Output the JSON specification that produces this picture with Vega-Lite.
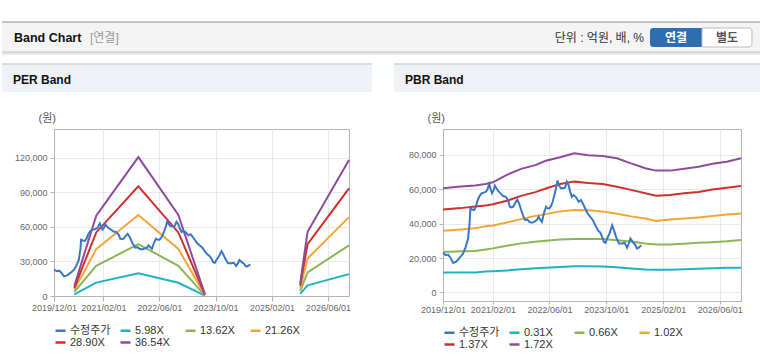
{
  "$schema": "https://vega.github.io/schema/vega-lite/v6.json",
  "padding": {"top": 21, "left": 0, "right": 0, "bottom": 0},
  "background": "white",
  "spacing": 8,
  "datasets": {
    "price": [
      {"d":"2019-12-01","v":23000},{"d":"2019-12-24","v":21600},{"d":"2020-01-14","v":22000},{"d":"2020-02-03","v":20200},
      {"d":"2020-02-26","v":17100},{"d":"2020-03-19","v":17700},{"d":"2020-04-08","v":19000},{"d":"2020-04-28","v":20600},
      {"d":"2020-05-21","v":22600},{"d":"2020-06-13","v":26500},{"d":"2020-07-03","v":31300},{"d":"2020-07-17","v":41000},
      {"d":"2020-07-23","v":48800},{"d":"2020-08-07","v":48200},{"d":"2020-08-24","v":47900},{"d":"2020-09-08","v":49800},
      {"d":"2020-09-19","v":52700},{"d":"2020-10-06","v":55600},{"d":"2020-10-26","v":57600},{"d":"2020-11-16","v":58000},
      {"d":"2020-12-03","v":58600},{"d":"2020-12-14","v":59500},{"d":"2021-01-01","v":63000},{"d":"2021-01-13","v":60000},
      {"d":"2021-01-24","v":57600},{"d":"2021-02-05","v":59000},{"d":"2021-02-18","v":62000},{"d":"2021-03-04","v":60500},
      {"d":"2021-03-18","v":59000},{"d":"2021-04-08","v":57600},{"d":"2021-04-30","v":56000},{"d":"2021-05-23","v":55600},
      {"d":"2021-06-13","v":53300},{"d":"2021-06-27","v":49800},{"d":"2021-07-11","v":49400},{"d":"2021-07-26","v":49800},
      {"d":"2021-08-18","v":52700},{"d":"2021-08-30","v":54000},{"d":"2021-09-16","v":51400},{"d":"2021-09-30","v":48200},
      {"d":"2021-10-20","v":44400},{"d":"2021-11-04","v":42000},{"d":"2021-11-24","v":42400},{"d":"2021-12-11","v":41000},
      {"d":"2022-01-01","v":40500},{"d":"2022-01-21","v":41000},{"d":"2022-02-13","v":42000},{"d":"2022-02-28","v":44000},
      {"d":"2022-03-17","v":42000},{"d":"2022-03-29","v":41000},{"d":"2022-04-15","v":46000},{"d":"2022-05-03","v":49800},
      {"d":"2022-05-14","v":49000},{"d":"2022-06-01","v":48800},{"d":"2022-06-15","v":50200},{"d":"2022-06-29","v":52700},
      {"d":"2022-07-14","v":56600},{"d":"2022-07-28","v":60500},{"d":"2022-08-09","v":65000},{"d":"2022-08-20","v":62500},
      {"d":"2022-09-07","v":60500},{"d":"2022-09-30","v":60500},{"d":"2022-10-14","v":61000},{"d":"2022-10-28","v":64400},
      {"d":"2022-11-12","v":62500},{"d":"2022-11-26","v":58600},{"d":"2022-12-11","v":55600},{"d":"2022-12-25","v":56600},
      {"d":"2023-01-17","v":55300},{"d":"2023-02-07","v":52700},{"d":"2023-02-27","v":53700},{"d":"2023-03-14","v":51800},
      {"d":"2023-04-04","v":48800},{"d":"2023-04-24","v":46000},{"d":"2023-05-16","v":44000},{"d":"2023-06-09","v":42000},
      {"d":"2023-06-29","v":39000},{"d":"2023-07-24","v":36000},{"d":"2023-08-13","v":34600},{"d":"2023-08-27","v":32300},
      {"d":"2023-09-11","v":29400},{"d":"2023-09-25","v":28800},{"d":"2023-10-09","v":31300},{"d":"2023-10-29","v":34200},
      {"d":"2023-11-22","v":39000},{"d":"2023-12-08","v":36000},{"d":"2023-12-25","v":32300},{"d":"2024-01-18","v":28400},
      {"d":"2024-02-15","v":28400},{"d":"2024-03-08","v":28800},{"d":"2024-03-28","v":26000},{"d":"2024-04-12","v":28400},
      {"d":"2024-04-26","v":31300},{"d":"2024-05-16","v":29400},{"d":"2024-06-03","v":28000},{"d":"2024-06-22","v":25500},
      {"d":"2024-07-06","v":26000},{"d":"2024-07-29","v":27400}
    ],
    "perBands": [
      {"d":"2020-05-25","s":"5.98X","v":1500,"p":1},{"d":"2020-12-01","s":"5.98X","v":11600,"p":1},{"d":"2021-12-01","s":"5.98X","v":19800,"p":1},{"d":"2022-11-13","s":"5.98X","v":11500,"p":1},{"d":"2023-07-01","s":"5.98X","v":300,"p":1},
      {"d":"2025-10-04","s":"5.98X","v":1800,"p":2},{"d":"2025-12-07","s":"5.98X","v":9200,"p":2},{"d":"2026-12-01","s":"5.98X","v":19000,"p":2},
      {"d":"2020-05-25","s":"13.62X","v":3500,"p":1},{"d":"2020-12-01","s":"13.62X","v":26200,"p":1},{"d":"2021-12-01","s":"13.62X","v":45000,"p":1},{"d":"2022-11-13","s":"13.62X","v":26200,"p":1},{"d":"2023-07-01","s":"13.62X","v":600,"p":1},
      {"d":"2025-10-04","s":"13.62X","v":4200,"p":2},{"d":"2025-12-07","s":"13.62X","v":20500,"p":2},{"d":"2026-12-01","s":"13.62X","v":44000,"p":2},
      {"d":"2020-05-25","s":"21.26X","v":5500,"p":1},{"d":"2020-12-01","s":"21.26X","v":40700,"p":1},{"d":"2021-12-01","s":"21.26X","v":70300,"p":1},{"d":"2022-11-13","s":"21.26X","v":40800,"p":1},{"d":"2023-07-01","s":"21.26X","v":900,"p":1},
      {"d":"2025-10-04","s":"21.26X","v":6500,"p":2},{"d":"2025-12-07","s":"21.26X","v":32600,"p":2},{"d":"2026-12-01","s":"21.26X","v":68500,"p":2},
      {"d":"2020-05-25","s":"28.90X","v":6900,"p":1},{"d":"2020-12-01","s":"28.90X","v":55200,"p":1},{"d":"2021-12-01","s":"28.90X","v":95300,"p":1},{"d":"2022-11-13","s":"28.90X","v":55200,"p":1},{"d":"2023-07-01","s":"28.90X","v":1200,"p":1},
      {"d":"2025-10-04","s":"28.90X","v":9000,"p":2},{"d":"2025-12-07","s":"28.90X","v":45000,"p":2},{"d":"2026-12-01","s":"28.90X","v":93500,"p":2},
      {"d":"2020-05-25","s":"36.54X","v":8700,"p":1},{"d":"2020-12-01","s":"36.54X","v":69800,"p":1},{"d":"2021-12-01","s":"36.54X","v":120600,"p":1},{"d":"2022-11-13","s":"36.54X","v":70300,"p":1},{"d":"2023-07-01","s":"36.54X","v":1500,"p":1},
      {"d":"2025-10-04","s":"36.54X","v":11000,"p":2},{"d":"2025-12-07","s":"36.54X","v":55800,"p":2},{"d":"2026-12-01","s":"36.54X","v":118000,"p":2}
    ],
    "pbrBands": [
      {"d":"2019-12-01","s":"0.31X","v":11500},{"d":"2020-05-01","s":"0.31X","v":11500},{"d":"2020-09-01","s":"0.31X","v":11600},{"d":"2020-12-01","s":"0.31X","v":12100},
      {"d":"2021-02-01","s":"0.31X","v":12300},{"d":"2021-06-01","s":"0.31X","v":12800},{"d":"2021-10-01","s":"0.31X","v":13400},{"d":"2022-02-01","s":"0.31X","v":14000},
      {"d":"2022-05-01","s":"0.31X","v":14400},{"d":"2022-09-01","s":"0.31X","v":14800},{"d":"2023-01-01","s":"0.31X","v":15200},{"d":"2023-05-01","s":"0.31X","v":15200},
      {"d":"2023-09-01","s":"0.31X","v":15100},{"d":"2024-01-01","s":"0.31X","v":14600},{"d":"2024-05-01","s":"0.31X","v":13900},{"d":"2024-09-01","s":"0.31X","v":13300},
      {"d":"2024-12-01","s":"0.31X","v":13200},{"d":"2025-04-01","s":"0.31X","v":13200},{"d":"2025-08-01","s":"0.31X","v":13500},{"d":"2025-12-01","s":"0.31X","v":13800},
      {"d":"2026-04-01","s":"0.31X","v":14000},{"d":"2026-08-01","s":"0.31X","v":14300},{"d":"2026-12-01","s":"0.31X","v":14400},
      {"d":"2019-12-01","s":"0.66X","v":23500},{"d":"2020-05-01","s":"0.66X","v":23900},{"d":"2020-09-01","s":"0.66X","v":24100},{"d":"2020-12-01","s":"0.66X","v":25000},
      {"d":"2021-02-01","s":"0.66X","v":25600},{"d":"2021-06-01","s":"0.66X","v":27100},{"d":"2021-10-01","s":"0.66X","v":28500},{"d":"2022-02-01","s":"0.66X","v":29400},
      {"d":"2022-05-01","s":"0.66X","v":30000},{"d":"2022-09-01","s":"0.66X","v":30800},{"d":"2023-01-01","s":"0.66X","v":31100},{"d":"2023-05-01","s":"0.66X","v":31100},
      {"d":"2023-09-01","s":"0.66X","v":31000},{"d":"2024-01-01","s":"0.66X","v":30300},{"d":"2024-05-01","s":"0.66X","v":29600},{"d":"2024-09-01","s":"0.66X","v":28400},
      {"d":"2024-12-01","s":"0.66X","v":27800},{"d":"2025-04-01","s":"0.66X","v":27800},{"d":"2025-08-01","s":"0.66X","v":28300},{"d":"2025-12-01","s":"0.66X","v":28800},
      {"d":"2026-04-01","s":"0.66X","v":29200},{"d":"2026-08-01","s":"0.66X","v":29700},{"d":"2026-12-01","s":"0.66X","v":30400},
      {"d":"2019-12-01","s":"1.02X","v":35800},{"d":"2020-05-01","s":"1.02X","v":36600},{"d":"2020-09-01","s":"1.02X","v":37300},{"d":"2020-12-01","s":"1.02X","v":38400},
      {"d":"2021-02-01","s":"1.02X","v":38900},{"d":"2021-06-01","s":"1.02X","v":40600},{"d":"2021-10-01","s":"1.02X","v":42600},{"d":"2022-02-01","s":"1.02X","v":44500},
      {"d":"2022-05-01","s":"1.02X","v":45500},{"d":"2022-09-01","s":"1.02X","v":47100},{"d":"2023-01-01","s":"1.02X","v":47900},{"d":"2023-05-01","s":"1.02X","v":47700},
      {"d":"2023-09-01","s":"1.02X","v":47000},{"d":"2024-01-01","s":"1.02X","v":45700},{"d":"2024-05-01","s":"1.02X","v":44200},{"d":"2024-09-01","s":"1.02X","v":43000},
      {"d":"2024-12-01","s":"1.02X","v":41500},{"d":"2025-04-01","s":"1.02X","v":42400},{"d":"2025-08-01","s":"1.02X","v":42900},{"d":"2025-12-01","s":"1.02X","v":43600},
      {"d":"2026-04-01","s":"1.02X","v":44400},{"d":"2026-08-01","s":"1.02X","v":45300},{"d":"2026-12-01","s":"1.02X","v":45900},
      {"d":"2019-12-01","s":"1.37X","v":48200},{"d":"2020-05-01","s":"1.37X","v":49000},{"d":"2020-09-01","s":"1.37X","v":49900},{"d":"2020-12-01","s":"1.37X","v":50500},
      {"d":"2021-02-01","s":"1.37X","v":51300},{"d":"2021-06-01","s":"1.37X","v":53300},{"d":"2021-10-01","s":"1.37X","v":56100},{"d":"2022-02-01","s":"1.37X","v":58300},
      {"d":"2022-05-01","s":"1.37X","v":60400},{"d":"2022-09-01","s":"1.37X","v":63000},{"d":"2023-01-01","s":"1.37X","v":64400},{"d":"2023-05-01","s":"1.37X","v":63600},
      {"d":"2023-09-01","s":"1.37X","v":63000},{"d":"2024-01-01","s":"1.37X","v":61400},{"d":"2024-05-01","s":"1.37X","v":59600},{"d":"2024-09-01","s":"1.37X","v":57600},
      {"d":"2024-12-01","s":"1.37X","v":56200},{"d":"2025-04-01","s":"1.37X","v":56600},{"d":"2025-08-01","s":"1.37X","v":57600},{"d":"2025-12-01","s":"1.37X","v":58400},
      {"d":"2026-04-01","s":"1.37X","v":59800},{"d":"2026-08-01","s":"1.37X","v":60900},{"d":"2026-12-01","s":"1.37X","v":61900},
      {"d":"2019-12-01","s":"1.72X","v":60500},{"d":"2020-05-01","s":"1.72X","v":61500},{"d":"2020-09-01","s":"1.72X","v":62200},{"d":"2020-12-01","s":"1.72X","v":63000},
      {"d":"2021-02-01","s":"1.72X","v":64000},{"d":"2021-06-01","s":"1.72X","v":68300},{"d":"2021-10-01","s":"1.72X","v":71800},{"d":"2022-02-01","s":"1.72X","v":74000},
      {"d":"2022-05-01","s":"1.72X","v":76500},{"d":"2022-09-01","s":"1.72X","v":78600},{"d":"2023-01-01","s":"1.72X","v":80900},{"d":"2023-05-01","s":"1.72X","v":79800},
      {"d":"2023-09-01","s":"1.72X","v":79300},{"d":"2024-01-01","s":"1.72X","v":78000},{"d":"2024-05-01","s":"1.72X","v":75000},{"d":"2024-09-01","s":"1.72X","v":72200},
      {"d":"2024-12-01","s":"1.72X","v":70800},{"d":"2025-04-01","s":"1.72X","v":70800},{"d":"2025-08-01","s":"1.72X","v":71900},{"d":"2025-12-01","s":"1.72X","v":73000},
      {"d":"2026-04-01","s":"1.72X","v":74800},{"d":"2026-08-01","s":"1.72X","v":76000},{"d":"2026-12-01","s":"1.72X","v":78000}
    ]
  },
  "vconcat": [
    {
      "width": 708,
      "height": 30,
      "view": {"stroke": null},
      "layer": [
        {"data": {"values": [{"t": "bg"}]}, "mark": {"type": "rect", "color": "#f4f4f4"},
         "encoding": {"x": {"datum": 0, "type": "quantitative", "scale": {"domain": [52, 760], "nice": false, "zero": false}, "axis": null}, "x2": {"datum": 760},
                      "y": {"datum": 0, "type": "quantitative", "scale": {"domain": [0, 30], "reverse": true, "nice": false, "zero": false}, "axis": null}, "y2": {"datum": 30}}},
        {"data": {"values": [{"t": "shadow"}]}, "mark": {"type": "rule", "color": "#e4e4e4", "strokeWidth": 2.5},
         "encoding": {"x": {"datum": 0, "type": "quantitative"}, "x2": {"datum": 760}, "y": {"datum": 31.5, "type": "quantitative"}}},
        {"data": {"values": [{"t": "top"}]}, "mark": {"type": "rule", "color": "#b2b2b2", "strokeWidth": 1.5},
         "encoding": {"x": {"datum": 0, "type": "quantitative"}, "x2": {"datum": 760}, "y": {"datum": 0, "type": "quantitative"}}},
        {"data": {"values": [{"t": "bottom"}]}, "mark": {"type": "rule", "color": "#c4c4c4", "strokeWidth": 1.2},
         "encoding": {"x": {"datum": 0, "type": "quantitative"}, "x2": {"datum": 760}, "y": {"datum": 30, "type": "quantitative"}}},
        {"data": {"values": [{"t": "Band Chart"}]}, "mark": {"type": "text", "align": "left", "baseline": "middle", "fontSize": 12.5, "fontWeight": "bold", "color": "#111111"},
         "encoding": {"x": {"datum": 12, "type": "quantitative"}, "y": {"datum": 16, "type": "quantitative"}, "text": {"field": "t"}}},
        {"data": {"values": [{"t": "[연결]"}]}, "mark": {"type": "text", "align": "left", "baseline": "middle", "fontSize": 12, "color": "#999999"},
         "encoding": {"x": {"datum": 88, "type": "quantitative"}, "y": {"datum": 16, "type": "quantitative"}, "text": {"field": "t"}}},
        {"data": {"values": [{"t": "단위 : 억원, 배, %"}]}, "mark": {"type": "text", "align": "right", "baseline": "middle", "fontSize": 12, "color": "#333333"},
         "encoding": {"x": {"datum": 642, "type": "quantitative"}, "y": {"datum": 16, "type": "quantitative"}, "text": {"field": "t"}}},
        {"data": {"values": [{"t": "연결"}]}, "mark": {"type": "rect", "color": "#2f6db3", "cornerRadiusTopLeft": 3, "cornerRadiusBottomLeft": 3},
         "encoding": {"x": {"datum": 648, "type": "quantitative"}, "x2": {"datum": 700}, "y": {"datum": 6, "type": "quantitative"}, "y2": {"datum": 25}}},
        {"data": {"values": [{"t": "별도"}]}, "mark": {"type": "rect", "fill": "#ffffff", "stroke": "#bdbdbd", "strokeWidth": 1, "cornerRadiusTopRight": 3, "cornerRadiusBottomRight": 3},
         "encoding": {"x": {"datum": 700, "type": "quantitative"}, "x2": {"datum": 750}, "y": {"datum": 6, "type": "quantitative"}, "y2": {"datum": 25}}},
        {"data": {"values": [{"t": "연결"}]}, "mark": {"type": "text", "align": "center", "baseline": "middle", "fontSize": 12, "fontWeight": "bold", "color": "#ffffff"},
         "encoding": {"x": {"datum": 674, "type": "quantitative"}, "y": {"datum": 16, "type": "quantitative"}, "text": {"field": "t"}}},
        {"data": {"values": [{"t": "별도"}]}, "mark": {"type": "text", "align": "center", "baseline": "middle", "fontSize": 12, "fontWeight": "bold", "color": "#555555"},
         "encoding": {"x": {"datum": 725, "type": "quantitative"}, "y": {"datum": 16, "type": "quantitative"}, "text": {"field": "t"}}}
      ]
    },
    {
      "resolve": {"scale": {"color": "independent"}, "legend": {"color": "independent"}},
      "spacing": 20,
      "hconcat": [
        {
          "spacing": 19,
          "vconcat": [
            {
              "width": 318,
              "height": 28,
              "view": {"stroke": null},
              "layer": [
                {"data": {"values": [{"t": "bg"}]}, "mark": {"type": "rect", "color": "#eef2f7"},
                 "encoding": {"x": {"datum": 0, "type": "quantitative", "scale": {"domain": [52, 370], "nice": false, "zero": false}, "axis": null}, "x2": {"datum": 370},
                              "y": {"datum": 0, "type": "quantitative", "scale": {"domain": [0, 28], "reverse": true, "nice": false, "zero": false}, "axis": null}, "y2": {"datum": 28}}},
                {"data": {"values": [{"t": "top"}]}, "mark": {"type": "rule", "color": "#d2d2d2", "strokeWidth": 1.5},
                 "encoding": {"x": {"datum": 0, "type": "quantitative"}, "x2": {"datum": 370}, "y": {"datum": 0, "type": "quantitative"}}},
                {"data": {"values": [{"t": "PER Band"}]}, "mark": {"type": "text", "align": "left", "baseline": "middle", "fontSize": 12, "fontWeight": "bold", "color": "#111111"},
                 "encoding": {"x": {"datum": 11, "type": "quantitative"}, "y": {"datum": 16, "type": "quantitative"}, "text": {"field": "t"}}}
              ]
            },
            {
              "width": 295,
              "height": 167,
              "layer": [
                {
                  "data": {"name": "perBands"},
                  "mark": {"type": "line", "strokeWidth": 2},
                  "encoding": {
                    "x": {"field": "d", "type": "temporal",
                      "scale": {"type": "utc", "nice": false, "domain": [{"year": 2019, "month": 12, "date": 1, "utc": true}, {"year": 2026, "month": 12, "date": 1, "utc": true}]},
                      "axis": {"title": null, "format": "%Y/%m/%d", "grid": true, "labelFlush": false, "labelOverlap": false, "tickSize": 5, "labelPadding": 2,
                        "values": [{"year": 2019, "month": 12, "date": 1, "utc": true}, {"year": 2021, "month": 2, "date": 1, "utc": true}, {"year": 2022, "month": 6, "date": 1, "utc": true}, {"year": 2023, "month": 10, "date": 1, "utc": true}, {"year": 2025, "month": 2, "date": 1, "utc": true}, {"year": 2026, "month": 6, "date": 1, "utc": true}]}},
                    "y": {"field": "v", "type": "quantitative",
                      "scale": {"domain": [0, 145000], "nice": false, "zero": false},
                      "axis": {"values": [0, 30000, 60000, 90000, 120000], "format": ",d", "title": "(원)", "titleAngle": 0, "titleAlign": "left", "titleBaseline": "middle", "titleX": -16, "titleY": -11, "titleFontSize": 11, "titleFontWeight": "normal", "titleColor": "#555555", "minExtent": 52, "tickSize": 4, "labelPadding": 3}},
                    "color": {"field": "s", "type": "nominal",
                      "scale": {"domain": ["수정주가", "5.98X", "13.62X", "21.26X", "28.90X", "36.54X"], "range": ["#3a76c6", "#1fb1c4", "#8db455", "#f2a63a", "#d0302c", "#8e4b9c"]},
                      "legend": {"orient": "bottom", "direction": "horizontal", "columns": 4, "title": null, "symbolType": "stroke", "symbolStrokeWidth": 2.5, "symbolSize": 100, "labelFontSize": 11, "labelColor": "#333333", "gridAlign": "all", "columnPadding": 4, "rowPadding": 0, "offset": 11, "labelOffset": 3, "padding": 0}},
                    "detail": {"field": "p", "type": "nominal"}
                  }
                },
                {
                  "data": {"name": "price"},
                  "mark": {"type": "line", "strokeWidth": 2},
                  "encoding": {
                    "x": {"field": "d", "type": "temporal"},
                    "y": {"field": "v", "type": "quantitative"},
                    "color": {"datum": "수정주가", "type": "nominal"}
                  }
                }
              ]
            }
          ]
        },
        {
          "spacing": 19,
          "vconcat": [
            {
              "width": 321,
              "height": 28,
              "view": {"stroke": null},
              "layer": [
                {"data": {"values": [{"t": "bg"}]}, "mark": {"type": "rect", "color": "#eef2f7"},
                 "encoding": {"x": {"datum": 0, "type": "quantitative", "scale": {"domain": [49, 370], "nice": false, "zero": false}, "axis": null}, "x2": {"datum": 370},
                              "y": {"datum": 0, "type": "quantitative", "scale": {"domain": [0, 28], "reverse": true, "nice": false, "zero": false}, "axis": null}, "y2": {"datum": 28}}},
                {"data": {"values": [{"t": "top"}]}, "mark": {"type": "rule", "color": "#d2d2d2", "strokeWidth": 1.5},
                 "encoding": {"x": {"datum": 0, "type": "quantitative"}, "x2": {"datum": 370}, "y": {"datum": 0, "type": "quantitative"}}},
                {"data": {"values": [{"t": "PBR Band"}]}, "mark": {"type": "text", "align": "left", "baseline": "middle", "fontSize": 12, "fontWeight": "bold", "color": "#111111"},
                 "encoding": {"x": {"datum": 11, "type": "quantitative"}, "y": {"datum": 16, "type": "quantitative"}, "text": {"field": "t"}}}
              ]
            },
            {
              "width": 298,
              "height": 172,
              "layer": [
                {
                  "data": {"name": "pbrBands"},
                  "mark": {"type": "line", "strokeWidth": 2},
                  "encoding": {
                    "x": {"field": "d", "type": "temporal",
                      "scale": {"type": "utc", "nice": false, "domain": [{"year": 2019, "month": 12, "date": 1, "utc": true}, {"year": 2026, "month": 12, "date": 1, "utc": true}]},
                      "axis": {"title": null, "format": "%Y/%m/%d", "grid": true, "labelFlush": false, "labelOverlap": false, "tickSize": 3, "labelPadding": 1,
                        "values": [{"year": 2019, "month": 12, "date": 1, "utc": true}, {"year": 2021, "month": 2, "date": 1, "utc": true}, {"year": 2022, "month": 6, "date": 1, "utc": true}, {"year": 2023, "month": 10, "date": 1, "utc": true}, {"year": 2025, "month": 2, "date": 1, "utc": true}, {"year": 2026, "month": 6, "date": 1, "utc": true}]}},
                    "y": {"field": "v", "type": "quantitative",
                      "scale": {"domain": [-5000, 95000], "nice": false, "zero": false},
                      "axis": {"values": [0, 20000, 40000, 60000, 80000], "format": ",d", "title": "(원)", "titleAngle": 0, "titleAlign": "left", "titleBaseline": "middle", "titleX": -16, "titleY": -11, "titleFontSize": 11, "titleFontWeight": "normal", "titleColor": "#555555", "minExtent": 49, "tickSize": 4, "labelPadding": 3}},
                    "color": {"field": "s", "type": "nominal",
                      "scale": {"domain": ["수정주가", "0.31X", "0.66X", "1.02X", "1.37X", "1.72X"], "range": ["#3a76c6", "#1fb1c4", "#8db455", "#f2a63a", "#d0302c", "#8e4b9c"]},
                      "legend": {"orient": "bottom", "direction": "horizontal", "columns": 4, "title": null, "symbolType": "stroke", "symbolStrokeWidth": 2.5, "symbolSize": 100, "labelFontSize": 11, "labelColor": "#333333", "gridAlign": "all", "columnPadding": 4, "rowPadding": 0, "offset": 11, "labelOffset": 3, "padding": 0}}
                  }
                },
                {
                  "data": {"name": "price"},
                  "mark": {"type": "line", "strokeWidth": 2},
                  "encoding": {
                    "x": {"field": "d", "type": "temporal"},
                    "y": {"field": "v", "type": "quantitative"},
                    "color": {"datum": "수정주가", "type": "nominal"}
                  }
                }
              ]
            }
          ]
        }
      ]
    }
  ],
  "config": {
    "font": "Liberation Sans, Noto Sans CJK KR, sans-serif",
    "view": {"stroke": "#b4b4b4"},
    "axis": {"labelColor": "#666666", "labelFontSize": 9, "domainColor": "#b4b4b4", "tickColor": "#b4b4b4", "gridColor": "#e9e9e9", "labelFont": "Liberation Sans, Noto Sans CJK KR, sans-serif"},
    "legend": {"labelFont": "Liberation Sans, Noto Sans CJK KR, sans-serif"}
  }
}
